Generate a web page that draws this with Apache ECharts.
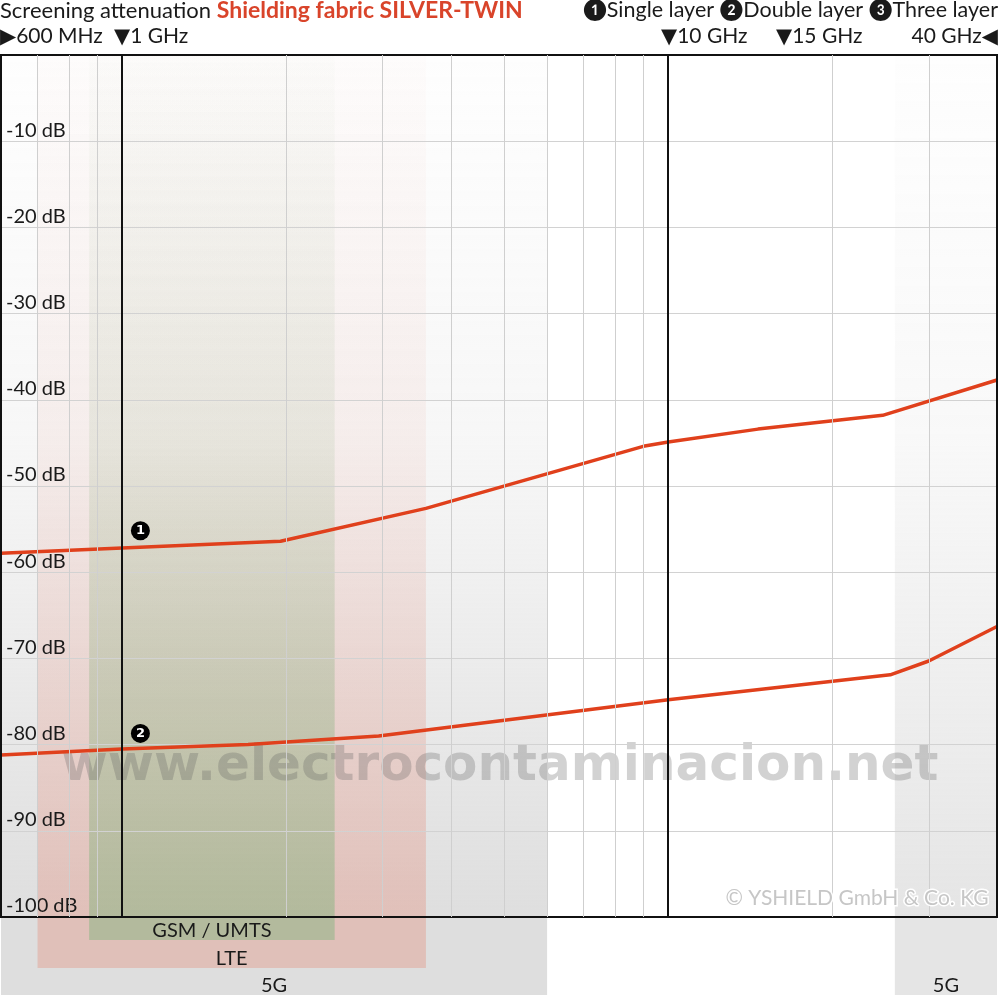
<!DOCTYPE html>
<html>
<head>
<meta charset="utf-8">
<script src="https://cdn.jsdelivr.net/npm/echarts@6/dist/echarts.min.js"></script>
<style>
  html, body { margin: 0; padding: 0; background: #fff; }
  #chart { width: 1000px; height: 1000px; }
</style>
</head>
<body>
<div id="chart"></div>
<script>
// frequencies in GHz, attenuation in dB
const freqSingle = [0.6, 1, 1.95, 3.6, 9, 10, 14.6, 24.7, 40];
const dbSingle = [-57.8, -57.2, -56.4, -52.6, -45.4, -44.9, -43.4, -41.8, -37.7];

const freqDouble = [0.6, 1, 1.7, 2.95, 10, 25.5, 30, 40];
const dbDouble = [-81.2, -80.5, -80.0, -79.0, -74.8, -71.9, -70.3, -66.3];

const minorFreqs = [0.7, 0.8, 0.9, 2, 3, 4, 5, 6, 7, 8, 9, 20, 30];
const majorFreqs = [1, 10];

// frequency bands [from, to] in GHz
const bandNames = ['5G', '5G', 'LTE', 'GSM / UMTS'];
const bandRanges = [[0.6, 6], [26, 40], [0.7, 3.6], [0.87, 2.45]];

const markerLabels = ['1', '2'];
const markerFreq = [1.08, 1.08];
const markerDb = [-55.2, -78.7];

const FONT = 'Lato, "DejaVu Sans", sans-serif';
const RED = '#e0401c';

// band look: rgb, max alpha, depth below plot (px)
const bandStyle = [
  { rgb: '190,190,190', a: 0.5, depth: 78 },
  { rgb: '190,190,190', a: 0.4, depth: 78 },
  { rgb: '228,140,122', a: 0.37, depth: 51 },
  { rgb: '150,182,138', a: 0.62, depth: 23 }
];

function fade(s) {
  return new echarts.graphic.LinearGradient(0, 0, 0, 1, [
    { offset: 0, color: 'rgba(' + s.rgb + ',0.02)' },
    { offset: 0.45, color: 'rgba(' + s.rgb + ',' + (s.a * 0.25) + ')' },
    { offset: 1, color: 'rgba(' + s.rgb + ',' + s.a + ')' }
  ]);
}

const chart = echarts.init(document.getElementById('chart'));

const plotBands = bandRanges.map((r, i) => [
  { xAxis: r[0], yAxis: 0, itemStyle: { color: fade(bandStyle[i]) } },
  { xAxis: r[1], yAxis: -100 }
]);

const footBands = bandRanges.map((r, i) => [
  {
    xAxis: r[0], yAxis: 0,
    itemStyle: { color: 'rgba(' + bandStyle[i].rgb + ',' + bandStyle[i].a + ')' },
    label: { show: true, formatter: bandNames[i] }
  },
  { xAxis: r[1], yAxis: bandStyle[i].depth }
]);

const gridLines = minorFreqs.map(f => ({ xAxis: f, lineStyle: { color: '#cfcfcf', width: 1, type: 'solid' } }))
  .concat(majorFreqs.map(f => ({ xAxis: f, lineStyle: { color: '#111', width: 2, type: 'solid' } })));

const options = {
  animation: false,
  grid: [
    { left: 1, right: 3, top: 55, height: 862, show: true, borderColor: '#111', borderWidth: 2, backgroundColor: 'transparent', z: 5 },
    { left: 1, right: 3, top: 917, height: 83 }
  ],
  xAxis: [
    { type: 'log', gridIndex: 0, min: 0.6, max: 40, logBase: 10, axisLine: { show: false }, axisTick: { show: false }, axisLabel: { show: false }, splitLine: { show: false } },
    { type: 'log', gridIndex: 1, min: 0.6, max: 40, logBase: 10, show: false }
  ],
  yAxis: [
    {
      type: 'value', gridIndex: 0, min: -100, max: 0, interval: 10, z: 3,
      axisLine: { show: false }, axisTick: { show: false },
      splitLine: { lineStyle: { color: '#d2d2d2', width: 1 } },
      axisLabel: {
        inside: true, margin: 5, verticalAlign: 'bottom', padding: [0, 0, 1, 0],
        color: '#1a1a1a', fontSize: 20, fontFamily: FONT,
        formatter: v => (v === 0 ? '' : v + ' dB')
      }
    },
    { type: 'value', gridIndex: 1, min: 0, max: 83, inverse: true, show: false }
  ],
  series: [
    {
      name: 'bands', type: 'line', xAxisIndex: 0, yAxisIndex: 0, data: [], silent: true, z: 1,
      markArea: { silent: true, data: plotBands }
    },
    {
      name: 'foot', type: 'line', xAxisIndex: 1, yAxisIndex: 1, data: [], silent: true,
      markArea: {
        silent: true,
        label: { position: 'insideBottom', distance: -1, color: '#1a1a1a', fontSize: 20, fontFamily: FONT },
        data: footBands
      }
    },
    {
      name: 'gridlines', type: 'line', xAxisIndex: 0, yAxisIndex: 0, data: [], silent: true, z: 3,
      markLine: { silent: true, symbol: 'none', label: { show: false }, data: gridLines }
    },
    {
      name: 'Single layer', type: 'line', xAxisIndex: 0, yAxisIndex: 0,
      data: freqSingle.map((f, i) => [f, dbSingle[i]]),
      showSymbol: false, lineStyle: { color: RED, width: 3.5 }, z: 4,
      markPoint: {
        symbol: 'circle', symbolSize: 19, itemStyle: { color: '#000' },
        label: { color: '#fff', fontSize: 13, fontWeight: 'bold', fontFamily: 'DejaVu Sans' },
        data: [{ coord: [markerFreq[0], markerDb[0]], value: markerLabels[0] }]
      }
    },
    {
      name: 'Double layer', type: 'line', xAxisIndex: 0, yAxisIndex: 0,
      data: freqDouble.map((f, i) => [f, dbDouble[i]]),
      showSymbol: false, lineStyle: { color: RED, width: 3.5 }, z: 4,
      markPoint: {
        symbol: 'circle', symbolSize: 19, itemStyle: { color: '#000' },
        label: { color: '#fff', fontSize: 13, fontWeight: 'bold', fontFamily: 'DejaVu Sans' },
        data: [{ coord: [markerFreq[1], markerDb[1]], value: markerLabels[1] }]
      }
    }
  ],
  graphic: [
    {
      type: 'text', left: 0, top: -1, z: 10,
      style: {
        text: '{a|Screening attenuation }{b|Shielding fabric SILVER-TWIN}',
        rich: {
          a: { fontSize: 22, fill: '#1a1a1a', fontFamily: FONT },
          b: { fontSize: 23, fontWeight: 'bold', fill: '#d9442a', fontFamily: FONT }
        }
      }
    },
    {
      type: 'text', right: 2, top: -1, z: 10,
      style: { text: '❶Single layer ❷Double layer ❸Three layer', fontSize: 21.5, fill: '#1a1a1a', fontFamily: FONT }
    },
    { type: 'text', left: 0, top: 26, z: 10, style: { text: '▶600 MHz', fontSize: 21, fill: '#1a1a1a', fontFamily: FONT } },
    { type: 'text', left: 114, top: 26, z: 10, style: { text: '▼1 GHz', fontSize: 21, fill: '#1a1a1a', fontFamily: FONT } },
    { type: 'text', left: 661, top: 26, z: 10, style: { text: '▼10 GHz', fontSize: 21, fill: '#1a1a1a', fontFamily: FONT } },
    { type: 'text', left: 776, top: 26, z: 10, style: { text: '▼15 GHz', fontSize: 21, fill: '#1a1a1a', fontFamily: FONT } },
    { type: 'text', right: 2, top: 26, z: 10, style: { text: '40 GHz◀', fontSize: 21, fill: '#1a1a1a', fontFamily: FONT } },
    {
      type: 'text', left: 'center', top: 742, z: 3, silent: true,
      style: { text: 'www.electrocontaminacion.net', fontSize: 50, fontWeight: 'bold', fill: 'rgba(95,95,95,0.28)', fontFamily: '"DejaVu Sans", sans-serif' }
    },
    {
      type: 'text', right: 10, top: 886, z: 10, silent: true,
      style: { text: '© YSHIELD GmbH & Co. KG', fontSize: 21, fill: '#c6c6c6', stroke: '#fff', lineWidth: 3, fontFamily: FONT }
    }
  ]
};

chart.setOption(options);
</script>
</body>
</html>
